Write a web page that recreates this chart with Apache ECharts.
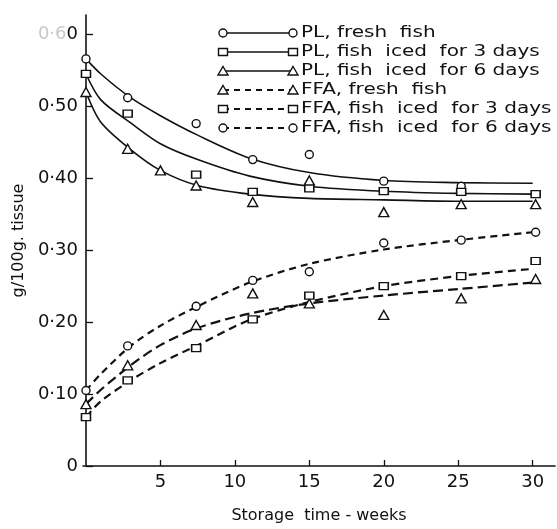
<!DOCTYPE html>
<html>
<head>
    <meta charset="utf-8">
    <title>PL and FFA in stored fish</title>
    <script src="https://cdn.jsdelivr.net/npm/echarts@6/dist/echarts.min.js"></script>
    <style>
        html, body { margin: 0; padding: 0; background: #fff; }
        #chart { width: 557px; height: 529px; }
    </style>
</head>
<body>
<div id="chart"></div>
<script type="text/javascript">
    // measured points (weeks, g/100g tissue)
    var plFreshPts   = [[0, 0.566], [2.8, 0.512], [7.4, 0.476], [11.2, 0.426], [15, 0.433], [20, 0.396], [25.2, 0.389]];
    var pl3Pts       = [[0, 0.545], [2.8, 0.490], [7.4, 0.405], [11.2, 0.381], [15, 0.386], [20, 0.382], [25.2, 0.381], [30.2, 0.378]];
    var pl6Pts       = [[0, 0.520], [2.8, 0.441], [5, 0.411], [7.4, 0.390], [11.2, 0.367], [15, 0.397], [20, 0.353], [25.2, 0.364], [30.2, 0.364]];
    var ffaFreshPts  = [[0, 0.086], [2.8, 0.140], [7.4, 0.196], [11.2, 0.240], [15, 0.226], [20, 0.210], [25.2, 0.233], [30.2, 0.260]];
    var ffa3Pts      = [[0, 0.068], [2.8, 0.119], [7.4, 0.164], [11.2, 0.204], [15, 0.237], [20, 0.250], [25.2, 0.264], [30.2, 0.285]];
    var ffa6Pts      = [[0, 0.105], [2.8, 0.167], [7.4, 0.222], [11.2, 0.258], [15, 0.270], [20, 0.310], [25.2, 0.314], [30.2, 0.325]];

    // fitted curves
    var curveWeeks   = [0, 1, 3, 5, 7.5, 11, 15, 20, 25, 30];
    var plFreshCurve = [0.566, 0.545, 0.512, 0.487, 0.460, 0.428, 0.408, 0.397, 0.394, 0.393];
    var pl3Curve     = [0.545, 0.509, 0.477, 0.448, 0.426, 0.403, 0.389, 0.382, 0.379, 0.378];
    var pl6Curve     = [0.520, 0.478, 0.440, 0.411, 0.390, 0.378, 0.372, 0.370, 0.368, 0.368];
    var ffaFreshCurve= [0.086, 0.106, 0.140, 0.168, 0.192, 0.212, 0.226, 0.237, 0.246, 0.255];
    var ffa3Curve    = [0.068, 0.090, 0.119, 0.143, 0.168, 0.203, 0.228, 0.250, 0.264, 0.274];
    var ffa6Curve    = [0.105, 0.128, 0.167, 0.195, 0.222, 0.255, 0.281, 0.301, 0.314, 0.325];

    var xTicks = [5, 10, 15, 20, 25, 30];
    var yTicks = [0, 0.1, 0.2, 0.3, 0.4, 0.5, 0.6];

    var legendNames = ['PL, fresh  fish', 'PL, fish  iced  for 3 days', 'PL, fish  iced  for 6 days',
                       'FFA, fresh  fish', 'FFA, fish  iced  for 3 days', 'FFA, fish  iced  for 6 days'];

    var FONT = '"DejaVu Sans", sans-serif';

    function pair(xs, ys) {
        return xs.map(function (x, i) { return [x, ys[i]]; });
    }

    var sets = [
        { pts: plFreshPts,  curve: plFreshCurve,  sym: 'circle',   dash: 'solid' },
        { pts: pl3Pts,      curve: pl3Curve,      sym: 'rect',     dash: 'solid' },
        { pts: pl6Pts,      curve: pl6Curve,      sym: 'triangle', dash: 'solid' },
        { pts: ffaFreshPts, curve: ffaFreshCurve, sym: 'triangle', dash: [10, 5] },
        { pts: ffa3Pts,     curve: ffa3Curve,     sym: 'rect',     dash: [8, 5] },
        { pts: ffa6Pts,     curve: ffa6Curve,     sym: 'circle',   dash: [7, 5] }
    ];

    function symSize(s) {
        if (s === 'rect') return [9, 7];
        if (s === 'triangle') return [10, 9];
        return 8;
    }

    var series = [];
    sets.forEach(function (s, i) {
        series.push({
            name: legendNames[i] + ' fit',
            type: 'line',
            data: pair(curveWeeks, s.curve),
            smooth: 0.3,
            showSymbol: false,
            silent: true,
            z: 2,
            lineStyle: { color: '#111', width: s.dash === 'solid' ? 1.6 : 2.2, type: s.dash }
        });
        series.push({
            name: legendNames[i],
            type: 'scatter',
            data: s.pts,
            symbol: s.sym,
            symbolSize: symSize(s.sym),
            z: 3,
            itemStyle: { color: '#fff', borderColor: '#111', borderWidth: 1.4, opacity: 1 }
        });
    });

    // legend drawn by hand: marker - line - marker, then the text
    function markerShape(sym, cx, cy) {
        var st = { fill: '#fff', stroke: '#111', lineWidth: 1.4 };
        if (sym === 'circle') return { type: 'circle', shape: { cx: cx, cy: cy, r: 4 }, style: st, z: 5 };
        if (sym === 'rect') return { type: 'rect', shape: { x: cx - 4.5, y: cy - 3.5, width: 9, height: 7 }, style: st, z: 5 };
        return { type: 'polygon', shape: { points: [[cx, cy - 4.5], [cx + 5, cy + 4], [cx - 5, cy + 4]] }, style: st, z: 5 };
    }

    var graphics = [];
    sets.forEach(function (s, i) {
        var y = 33 + i * 19;
        graphics.push({
            type: 'line', shape: { x1: 223, y1: y, x2: 293, y2: y }, z: 4,
            style: { stroke: '#111', lineWidth: s.dash === 'solid' ? 1.6 : 1.8, lineDash: s.dash === 'solid' ? null : [6, 5] }
        });
        graphics.push(markerShape(s.sym, 223, y));
        graphics.push(markerShape(s.sym, 293, y));
        graphics.push({
            type: 'text', x: 301, y: y, scaleX: 1.25, z: 5,
            style: { text: legendNames[i], font: '16px ' + FONT, fill: '#111', verticalAlign: 'middle' }
        });
    });

    var myChart = echarts.init(document.getElementById('chart'));
    myChart.setOption({
        backgroundColor: '#fff',
        animation: false,
        grid: { left: 83, right: 2, top: 15, bottom: 59 },
        xAxis: {
            type: 'value',
            min: -0.2,
            max: 31.5,
            name: 'Storage  time - weeks',
            nameLocation: 'middle',
            nameGap: 42,
            nameTextStyle: { fontFamily: FONT, fontSize: 16, color: '#111' },
            axisLine: { lineStyle: { color: '#111', width: 1.6 } },
            axisTick: { inside: true, length: 6, customValues: xTicks, lineStyle: { color: '#111', width: 1.3 } },
            axisLabel: { customValues: xTicks, fontFamily: FONT, fontSize: 18, color: '#111', margin: 7 },
            splitLine: { show: false }
        },
        yAxis: {
            type: 'value',
            min: 0,
            max: 0.627,
            name: 'g/100g. tissue',
            nameLocation: 'middle',
            nameGap: 52,
            nameTextStyle: { fontFamily: FONT, fontSize: 16, color: '#111' },
            axisLine: { show: true, lineStyle: { color: '#111', width: 1.6 } },
            axisTick: { show: true, inside: true, length: 7, customValues: yTicks, lineStyle: { color: '#111', width: 1.3 } },
            axisLabel: {
                customValues: yTicks,
                fontFamily: FONT, fontSize: 18, color: '#111', margin: 5,
                formatter: function (v) {
                    if (v === 0) return '0';
                    var s = String(Math.round(v * 100));
                    if (Math.abs(v - 0.6) < 1e-6) return '{f|0·6}{b|0}';
                    return '0·' + s;
                },
                rich: {
                    f: { fontFamily: FONT, fontSize: 18, color: '#c8c8c8' },
                    b: { fontFamily: FONT, fontSize: 18, color: '#111' }
                }
            },
            splitLine: { show: false }
        },
        graphic: graphics,
        series: series
    });
</script>
</body>
</html>
